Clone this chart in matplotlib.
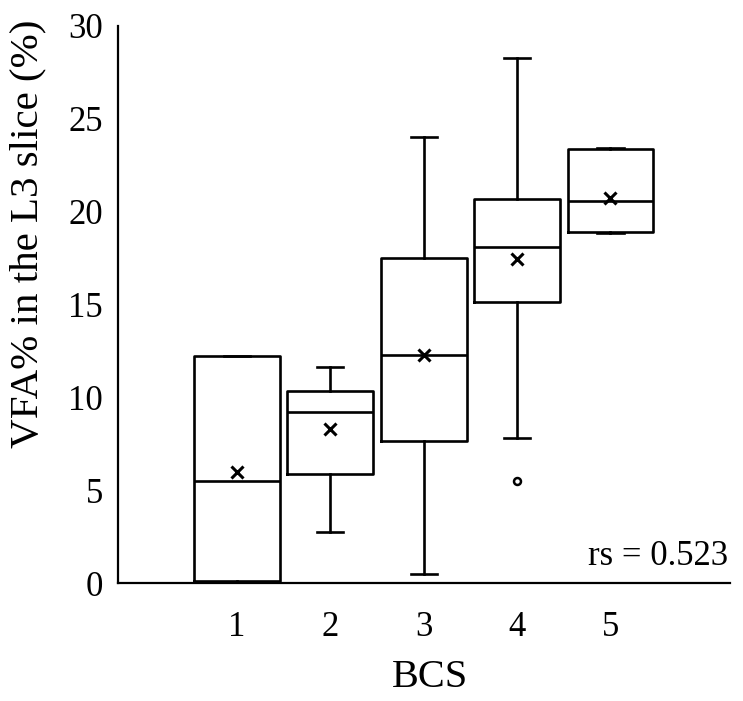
import matplotlib
matplotlib.use("Agg")
import matplotlib.pyplot as plt

categories = ["1", "2", "3", "4", "5"]
whisker_low = [0.0, 2.75, 0.5, 7.83, 18.85]
q1_vals = [0.1, 5.85, 7.65, 15.15, 18.88]
medians = [5.5, 9.23, 12.3, 18.08, 20.57]
q3_vals = [12.2, 10.36, 17.53, 20.7, 23.37]
whisker_high = [12.2, 11.63, 24.03, 28.25, 23.45]
means = [6.0, 8.29, 12.3, 17.43, 20.73]
outliers = [[], [], [], [5.5], []]
yticks = [0, 5, 10, 15, 20, 25, 30]

plt.rcParams['font.family'] = ['Liberation Serif', 'DejaVu Serif']

fig = plt.figure(figsize=(7.43, 7.01), dpi=100)
W, H = 743, 701
ax = fig.add_axes([118 / W, 118 / H, (730 - 118) / W, (583 - 26) / H])

stats = []
for i in range(len(categories)):
    stats.append(dict(label=categories[i], whislo=whisker_low[i], q1=q1_vals[i],
                      med=medians[i], q3=q3_vals[i], whishi=whisker_high[i],
                      mean=means[i], fliers=outliers[i]))

lw = 1.9
ax.bxp(stats, positions=range(1, 6), widths=0.92, showmeans=True,
       boxprops=dict(color='black', linewidth=lw),
       medianprops=dict(color='black', linewidth=lw),
       whiskerprops=dict(color='black', linewidth=lw),
       capprops=dict(color='black', linewidth=lw),
       capwidths=0.28,
       meanprops=dict(marker='x', markeredgecolor='black', markersize=8,
                      markeredgewidth=2.2),
       flierprops=dict(marker='o', markerfacecolor='white', markeredgecolor='black',
                       markersize=5, markeredgewidth=1.8))

ax.set_xlim(-0.275, 6.28)
ax.set_ylim(0, 30)
ax.set_yticks(yticks)
ax.set_yticklabels([str(t) for t in yticks])
ax.set_xticks(range(1, 6))
ax.set_xticklabels(categories)
ax.tick_params(axis='both', length=0, labelsize=25)
ax.tick_params(axis='x', pad=20.5)
ax.tick_params(axis='y', pad=11)
for s in ['top', 'right']:
    ax.spines[s].set_visible(False)
for s in ['left', 'bottom']:
    ax.spines[s].set_linewidth(1.6)

ax.set_ylabel("VFA% in the L3 slice (%)", fontsize=29.5)
ax.yaxis.set_label_coords((46 - 118) / 612, (583 - 234) / 557)
ax.set_xlabel("BCS", fontsize=29)
ax.xaxis.set_label_coords((430 - 118) / 612, (583 - 659) / 557)
ax.text((728 - 118) / 612, 18 / 557, "rs = 0.523", transform=ax.transAxes,
        ha='right', va='baseline', fontsize=25)

fig.savefig("out.png", dpi=100)
